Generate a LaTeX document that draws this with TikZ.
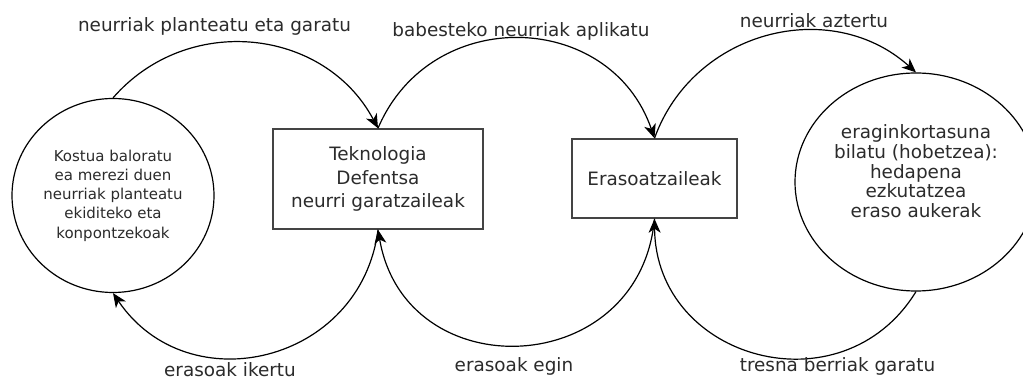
\documentclass[tikz,border=0pt]{standalone}
\usepackage{fontspec}
\setmainfont{DejaVu Sans}
\usetikzlibrary{arrows.meta,shapes.geometric}
\definecolor{ink}{HTML}{2B2B2B}
\definecolor{frame}{HTML}{444444}
\begin{document}
\begin{tikzpicture}[x=1pt,y=1pt,
  bigfont/.style={font=\fontsize{18.4}{23.7}\selectfont},
  stepbox/.style={rectangle, draw=frame, line width=1.5, inner sep=0,
    align=center, text=ink, bigfont},
  blob/.style={ellipse, draw=black, line width=1.2, inner sep=0,
    align=center, text=ink},
  flow/.style={draw=black, line width=1.2,
    -{Stealth[length=14, width=12, inset=4]}},
  lab/.style={anchor=base, text=ink, bigfont}
]
\useasboundingbox (0,0) rectangle (1023,382);

% the four stations of the cycle
\node[blob, minimum width=202, minimum height=194,
      font=\fontsize{15}{19.2}\selectfont] (L) at (113,186.5)
  {Kostua baloratu\\ea merezi duen\\neurriak planteatu\\ekiditeko eta\\konpontzekoak};
\node[stepbox, minimum width=210, minimum height=100] (B1) at (378,203)
  {Teknologia\\Defentsa\\neurri garatzaileak};
\node[stepbox, minimum width=165, minimum height=79] (B2) at (654.5,203.5)
  {Erasoatzaileak};
\node[blob, minimum width=242, minimum height=218,
      font=\fontsize{18.4}{18.8}\selectfont] (R) at (916,200)
  {\raisebox{8pt}[\height][\depth]{\begin{tabular}{@{}c@{}}eraginkortasuna\\bilatu (hobetzea):\\hedapena\\ezkutatzea\\eraso aukerak\end{tabular}}};

% upper arcs
\draw[flow] (L.north)  to[bend left=55.5, looseness=1.09] (B1.north);
\draw[flow] (B1.north) to[bend left=69,   looseness=1.25] (B2.north);
\draw[flow] (B2.north) to[bend left=56,   looseness=1.09] (R.north);
% lower arcs
\draw[flow] (B1.south) to[bend left=69.3, looseness=1.26] (L.south);
\draw[flow] (B2.south) to[bend left=82.5, looseness=1.5]  (B1.south);
\draw[flow] (R.south)  to[bend left=74,   looseness=1.33] (B2.south);

% arc captions
\node[lab] (c1) at (214.5,350)  {neurriak planteatu eta garatu};
\node[lab] (c2) at (521,345.3)  {babesteko neurriak aplikatu};
\node[lab] (c3) at (814,354.7)  {neurriak aztertu};
\node[lab] (c4) at (230,5)      {erasoak ikertu};
\node[lab] (c5) at (514,10.3)   {erasoak egin};
\node[lab] (c6) at (837.5,10)   {tresna berriak garatu};
\end{tikzpicture}
\end{document}
